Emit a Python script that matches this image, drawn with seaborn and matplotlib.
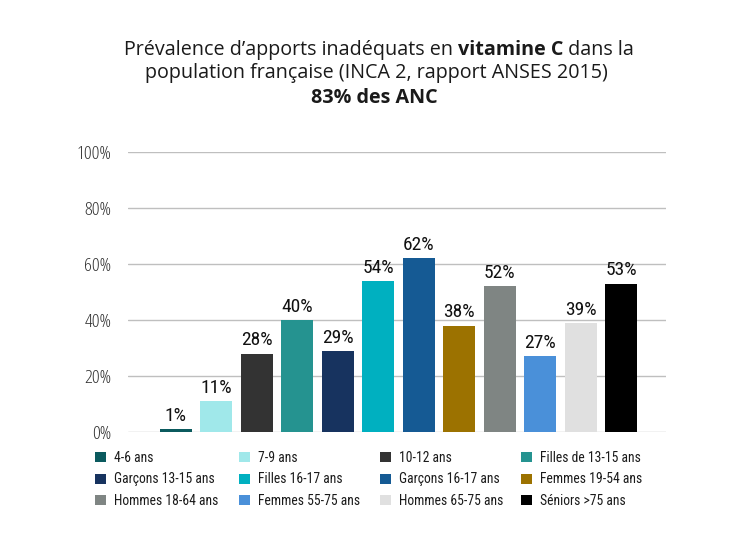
import matplotlib
matplotlib.use("Agg")
import matplotlib.pyplot as plt
import seaborn as sns
from matplotlib.patches import Patch
from matplotlib import font_manager as fm

labels = ["4-6 ans", "7-9 ans", "10-12 ans", "Filles de 13-15 ans",
          "Garçons 13-15 ans", "Filles 16-17 ans", "Garçons 16-17 ans", "Femmes 19-54 ans",
          "Hommes 18-64 ans", "Femmes 55-75 ans", "Hommes 65-75 ans", "Séniors >75 ans"]
values = [1, 11, 28, 40, 29, 54, 62, 38, 52, 27, 39, 53]
colors = ["#0b5a5e", "#a0e8ea", "#333333", "#259390",
          "#17335f", "#00b0c0", "#155a94", "#9c7200",
          "#7f8583", "#4a90d9", "#e0e0e0", "#000000"]
yticks = [0, 20, 40, 60, 80, 100]
ytick_labels = ["0%", "20%", "40%", "60%", "80%", "100%"]

sns.set_theme(style="white")


def _w(f):
    w = f.weight
    if isinstance(w, str):
        w = fm.weight_dict.get(w, 400)
    return int(w)


def pick_narrow(lo, hi):
    cond_stretch = {"condensed", "semi-condensed", "extra-condensed", "ultra-condensed"}
    cands = []
    for f in fm.fontManager.ttflist:
        is_cond = ("Condensed" in f.name or "Narrow" in f.name
                   or str(f.stretch) in cond_stretch
                   or (str(f.stretch).isdigit() and int(f.stretch) < 100)
                   or "Condensed" in f.fname or "Narrow" in f.fname)
        if is_cond and f.style == "normal" and lo <= _w(f) <= hi:
            cands.append(f)
    pref = ["Open Sans", "Roboto", "Liberation Sans", "Noto Sans", "DejaVu Sans"]
    cands.sort(key=lambda f: (next((i for i, p in enumerate(pref) if f.name.startswith(p)), 99),
                              abs(_w(f) - (lo + hi) / 2)))
    return cands[0].fname if cands else None


thin_path = pick_narrow(250, 450)
reg_path = pick_narrow(350, 500) or thin_path


def fp(path, size):
    if path:
        return fm.FontProperties(fname=path, size=size)
    return fm.FontProperties(family="DejaVu Sans", size=size * 0.85)


TITLE = ["Open Sans", "DejaVu Sans"]

W, H = 748, 543
fig = plt.figure(figsize=(W / 100, H / 100), dpi=100)
ax = fig.add_axes([128 / W, 1 - 432 / H, (666 - 128) / W, (432 - 152) / H])

sns.barplot(x=labels, y=values, hue=labels, palette=colors, dodge=False,
            legend=False, width=0.79, saturation=1, linewidth=0, ax=ax, zorder=3)

ax.set_ylim(0, 100)
ax.set_xlim(-1.18, 12.1)
ax.set_yticks(yticks)
ax.set_yticklabels(ytick_labels, color="#333333", fontproperties=fp(thin_path, 14))
ax.set_xticks([])
ax.set_xlabel("")
ax.set_ylabel("")
ax.tick_params(axis="y", length=0, pad=12)
for y in yticks:
    ax.axhline(y, color="#bfbfbf", lw=1, zorder=1)
for s in ax.spines.values():
    s.set_visible(False)

for i, v in enumerate(values):
    ax.annotate(f"{v}%", (i, v), xytext=(0, 3), textcoords="offset points",
                ha="center", va="bottom", color="#111111", fontproperties=fp(reg_path, 14))

# legend: four columns, filled row by row
handles = [Patch(facecolor=c, edgecolor="none", label=l) for l, c in zip(labels, colors)]
col_x = [95, 239, 380, 521]
for c in range(4):
    idx = [r * 4 + c for r in range(3)]
    fig.legend([handles[k] for k in idx], [labels[k] for k in idx], ncol=1,
               loc="upper left", bbox_to_anchor=(col_x[c] / W, 1 - 451 / H), frameon=False,
               prop=fp(reg_path, 9.8), handlelength=0.8, handleheight=0.8,
               handletextpad=0.6, labelspacing=0.55, borderaxespad=0, borderpad=0,
               labelcolor="#1a1a1a")

# title
fs = 14.2
renderer = fig.canvas.get_renderer()
parts = [("Prévalence d’apports inadéquats en ", "normal"), ("vitamine C", "bold"),
         (" dans la", "normal")]
widths = []
for txt, wgt in parts:
    t = fig.text(0, 0, txt, fontsize=fs, family=TITLE, weight=wgt)
    widths.append(t.get_window_extent(renderer).width)
    t.remove()
x = 379 - sum(widths) / 2
for (txt, wgt), w in zip(parts, widths):
    fig.text(x / W, 1 - 50 / H, txt, fontsize=fs, family=TITLE, weight=wgt,
             va="center", ha="left", color="#1a1a1a")
    x += w
fig.text(376 / W, 1 - 73 / H, "population française (INCA 2, rapport ANSES 2015)",
         fontsize=fs, family=TITLE, ha="center", va="center", color="#1a1a1a")
fig.text(374 / W, 1 - 98 / H, "83% des ANC", fontsize=fs, family=TITLE, weight="bold",
         ha="center", va="center", color="#1a1a1a")

fig.savefig("out.png", dpi=100)
